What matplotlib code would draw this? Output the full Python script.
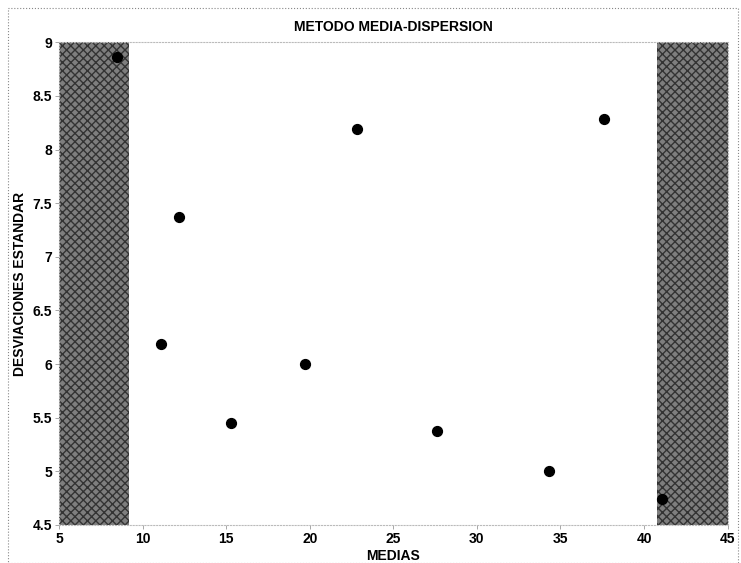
import matplotlib
matplotlib.use("Agg")
import matplotlib.pyplot as plt
from matplotlib.patches import Rectangle

# valores
medias = [8.5, 12.2, 22.8, 37.6, 11.1, 19.7, 15.3, 27.6, 34.3, 41.1]
desviaciones = [8.86, 7.37, 8.19, 8.28, 6.19, 6.0, 5.45, 5.38, 5.0, 4.74]
xticks = [5, 10, 15, 20, 25, 30, 35, 40, 45]
yticks = [4.5, 5, 5.5, 6, 6.5, 7, 7.5, 8, 8.5, 9]
zona_izq = (5, 9.2)
zona_der = (40.8, 45)

plt.rcParams['font.family'] = ['Liberation Sans', 'DejaVu Sans']

fig = plt.figure(figsize=(7.41, 5.63), dpi=100)
ax = fig.add_axes([0.0796, 0.0675, 0.9024, 0.8575])

# zonas sombreadas (bandas grises tramadas)
for a, b in [zona_izq, zona_der]:
    ax.axvspan(a, b, facecolor='#7e7e7e', edgecolor='#333333', hatch='xxxx', lw=0, zorder=1)

ax.scatter(medias, desviaciones, s=50, color='black', zorder=3)

ax.set_xlim(5, 45)
ax.set_ylim(4.5, 9)
ax.set_xticks(xticks)
ax.set_yticks(yticks)
ax.set_xticklabels([str(t) for t in xticks], fontsize=10, fontweight='bold')
ax.set_yticklabels([('%g' % t) for t in yticks], fontsize=10, fontweight='bold')
ax.tick_params(length=3, width=0.6, color='#999999', pad=2)

for s in ax.spines.values():
    s.set_linestyle(':')
    s.set_color('#bbbbbb')
    s.set_linewidth(0.8)

ax.set_title("METODO MEDIA-DISPERSION", fontsize=10, fontweight='bold', pad=8)
ax.set_xlabel("MEDIAS", fontsize=10, fontweight='bold', labelpad=2)
ax.set_ylabel("DESVIACIONES ESTANDAR", fontsize=10, fontweight='bold', labelpad=4)

# marco punteado de la figura
fig.patches.append(Rectangle((0.011, 0.0), 0.985, 0.985, transform=fig.transFigure,
                             fill=False, ls=':', lw=0.8, edgecolor='#888888'))

fig.savefig("out.png", dpi=100)
